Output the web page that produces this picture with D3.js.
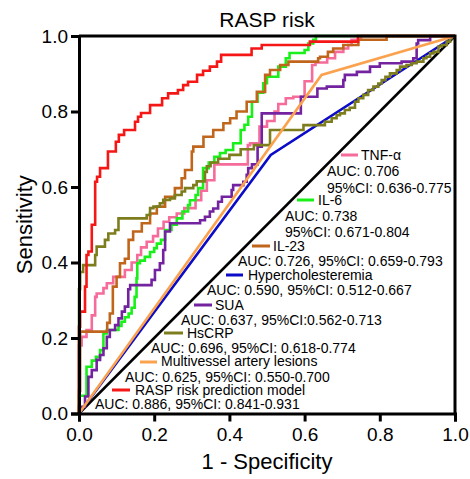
<!DOCTYPE html>
<html>
<head>
<meta charset="utf-8">
<script src="https://cdn.jsdelivr.net/npm/d3@7"></script>
<style>
  body { margin: 0; background: #fff; }
  text { font-family: "Liberation Sans", Arial, sans-serif; fill: #000; }
</style>
</head>
<body>
<svg id="chart"></svg>
<script>
// ROC curves: [1 - specificity, sensitivity]
const tnfa = [[0,0],[0.007,0.18],[0.02,0.203],[0.034,0.221],[0.043,0.26],[0.047,0.309],[0.065,0.318],[0.074,0.332],[0.091,0.345],[0.122,0.362],[0.14,0.38],[0.155,0.40],[0.165,0.42],[0.18,0.44],[0.197,0.455],[0.21,0.47],[0.225,0.49],[0.24,0.508],[0.26,0.52],[0.28,0.53],[0.31,0.544],[0.325,0.565],[0.34,0.59],[0.36,0.618],[0.449,0.66],[0.455,0.711],[0.48,0.716],[0.50,0.76],[0.52,0.775],[0.53,0.80],[0.55,0.82],[0.57,0.835],[0.60,0.839],[0.62,0.88],[0.629,0.923],[0.66,0.93],[0.681,0.941],[0.703,0.958],[0.716,0.967],[0.725,0.976],[0.75,0.99],[0.8,1],[1,1]]
const il6 = [[0,0],[0,0.03],[0.02,0.047],[0.034,0.124],[0.045,0.14],[0.056,0.15],[0.065,0.168],[0.074,0.212],[0.105,0.221],[0.113,0.232],[0.122,0.243],[0.132,0.255],[0.14,0.265],[0.148,0.28],[0.153,0.309],[0.155,0.358],[0.162,0.398],[0.175,0.405],[0.189,0.415],[0.2,0.428],[0.207,0.438],[0.218,0.45],[0.229,0.46],[0.246,0.486],[0.26,0.5],[0.275,0.517],[0.29,0.535],[0.295,0.552],[0.31,0.565],[0.317,0.579],[0.33,0.597],[0.345,0.65],[0.36,0.665],[0.375,0.68],[0.39,0.69],[0.41,0.698],[0.43,0.716],[0.44,0.751],[0.45,0.765],[0.46,0.786],[0.475,0.826],[0.49,0.85],[0.5,0.875],[0.53,0.892],[0.55,0.919],[0.56,0.941],[0.6,0.955],[0.61,0.963],[0.623,0.98],[0.63,0.99],[0.72,1],[1,1]]
const il23 = [[0,0],[0.003,0.06],[0.075,0.217],[0.082,0.24],[0.09,0.265],[0.1,0.336],[0.109,0.362],[0.122,0.398],[0.132,0.41],[0.144,0.46],[0.167,0.482],[0.189,0.504],[0.207,0.53],[0.229,0.548],[0.255,0.574],[0.273,0.597],[0.282,0.623],[0.3,0.645],[0.304,0.694],[0.331,0.707],[0.357,0.733],[0.384,0.751],[0.402,0.769],[0.419,0.782],[0.446,0.8],[0.473,0.826],[0.495,0.852],[0.508,0.897],[0.535,0.91],[0.557,0.923],[0.636,0.932],[0.641,0.941],[0.662,0.945],[0.676,0.958],[0.703,0.967],[0.743,0.976],[0.818,0.99],[0.87,1],[1,1]]
const hyperchol = [[0,0],[0.51,0.685],[1,1]]
const sua = [[0,0],[0.016,0.018],[0.025,0.045],[0.034,0.097],[0.047,0.115],[0.056,0.142],[0.065,0.155],[0.074,0.173],[0.082,0.203],[0.096,0.221],[0.105,0.234],[0.114,0.252],[0.122,0.27],[0.131,0.283],[0.136,0.329],[0.193,0.34],[0.202,0.354],[0.215,0.38],[0.224,0.398],[0.229,0.433],[0.242,0.482],[0.322,0.504],[0.335,0.512],[0.348,0.521],[0.357,0.535],[0.37,0.543],[0.38,0.561],[0.406,0.574],[0.41,0.592],[0.437,0.605],[0.446,0.614],[0.45,0.632],[0.46,0.65],[0.475,0.66],[0.486,0.707],[0.59,0.795],[0.634,0.839],[0.659,0.861],[0.703,0.866],[0.707,0.883],[0.739,0.897],[0.774,0.905],[0.80,0.919],[0.858,0.928],[0.889,0.932],[0.898,0.941],[0.902,0.98],[0.934,0.989],[1,1]]
const hscrp = [[0,0],[0,0.23],[0.003,0.33],[0.011,0.375],[0.043,0.393],[0.047,0.42],[0.069,0.442],[0.078,0.46],[0.096,0.477],[0.105,0.486],[0.18,0.517],[0.189,0.526],[0.198,0.544],[0.215,0.548],[0.224,0.557],[0.242,0.566],[0.255,0.57],[0.273,0.579],[0.282,0.588],[0.304,0.597],[0.313,0.605],[0.335,0.615],[0.34,0.64],[0.35,0.655],[0.37,0.665],[0.40,0.675],[0.43,0.685],[0.465,0.70],[0.508,0.711],[0.597,0.751],[0.654,0.764],[0.672,0.773],[0.685,0.782],[0.694,0.79],[0.707,0.795],[0.72,0.804],[0.734,0.81],[0.743,0.826],[0.756,0.835],[0.769,0.844],[0.783,0.857],[0.796,0.866],[0.805,0.874],[0.815,0.883],[0.827,0.892],[0.845,0.901],[0.854,0.91],[0.871,0.919],[0.885,0.923],[0.898,0.928],[0.916,0.932],[0.924,0.941],[0.934,0.945],[0.943,0.954],[0.956,0.958],[0.965,0.972],[0.978,0.976],[0.987,0.985],[0.991,0.994],[1,1]]
const multivessel = [[0,0],[0.645,0.897],[1,1]]
const rasp = [[0,0],[0.003,0.23],[0.016,0.27],[0.02,0.336],[0.025,0.42],[0.034,0.429],[0.043,0.5],[0.048,0.614],[0.056,0.627],[0.077,0.65],[0.098,0.694],[0.106,0.72],[0.12,0.738],[0.149,0.751],[0.157,0.773],[0.165,0.786],[0.189,0.796],[0.221,0.817],[0.237,0.835],[0.263,0.848],[0.277,0.857],[0.29,0.870],[0.314,0.879],[0.33,0.897],[0.348,0.908],[0.367,0.919],[0.378,0.932],[0.459,0.95],[0.486,0.967],[0.614,0.976],[0.742,0.985],[0.818,1],[1,1]]
const reference = [[0,0],[1,1]]

const seriesNames = ['TNF-α', 'IL-6', 'IL-23', 'Hypercholesteremia', 'SUA', 'HsCRP', 'Multivessel artery lesions', 'RASP risk prediction model']
const seriesValues = [tnfa, il6, il23, hyperchol, sua, hscrp, multivessel, rasp]
const seriesStepped = [true, true, true, false, true, true, false, true]
const seriesColors = ['#f56b9a', '#19f019', '#c0661c', '#0b0bc8', '#7323a0', '#7d7d1e', '#fba24f', '#f51616']
const aucLines = [
  ['AUC: 0.706', '95%CI: 0.636-0.775'],
  ['AUC: 0.738', '95%CI: 0.671-0.804'],
  ['AUC: 0.726, 95%CI: 0.659-0.793'],
  ['AUC: 0.590, 95%CI: 0.512-0.667'],
  ['AUC: 0.637, 95%CI:0.562-0.713'],
  ['AUC: 0.696, 95%CI: 0.618-0.774'],
  ['AUC: 0.625, 95%CI: 0.550-0.700'],
  ['AUC: 0.886, 95%CI: 0.841-0.931']
]
const tickValues = [0, 0.2, 0.4, 0.6, 0.8, 1.0]

const width = 470
const height = 479
const margin = { top: 36, right: 15, bottom: 65.5, left: 79 }

const svg = d3.select('#chart').attr('width', width).attr('height', height)

const x = d3.scaleLinear().domain([0, 1]).range([margin.left, width - margin.right])
const y = d3.scaleLinear().domain([0, 1]).range([height - margin.bottom, margin.top])

// title
svg.append('text')
  .attr('x', (x(0) + x(1)) / 2)
  .attr('y', 27)
  .attr('text-anchor', 'middle')
  .attr('font-size', 21)
  .text('RASP risk')

// chance diagonal
svg.append('path')
  .attr('d', d3.line().x(d => x(d[0])).y(d => y(d[1]))(reference))
  .attr('fill', 'none')
  .attr('stroke', '#000')
  .attr('stroke-width', 2.5)

// ROC curves, drawn in legend order so the model ends on top
seriesValues.forEach((vals, i) => {
  const line = d3.line()
    .x(d => x(d[0]))
    .y(d => y(d[1]))
    .curve(seriesStepped[i] ? d3.curveStepBefore : d3.curveLinear)
  svg.append('path')
    .attr('d', line(vals))
    .attr('fill', 'none')
    .attr('stroke', seriesColors[i])
    .attr('stroke-width', 2.6)
})

// frame: top and right edges
svg.append('path')
  .attr('d', `M${x(0)},${y(1)}H${x(1)}V${y(0)}`)
  .attr('fill', 'none')
  .attr('stroke', '#000')
  .attr('stroke-width', 3)

// axes
const fmt = d3.format('.1f')
const xAxis = svg.append('g')
  .attr('transform', `translate(0,${y(0)})`)
  .call(d3.axisBottom(x).tickValues(tickValues).tickFormat(fmt).tickSize(8).tickPadding(6))
const yAxis = svg.append('g')
  .attr('transform', `translate(${x(0)},0)`)
  .call(d3.axisLeft(y).tickValues(tickValues).tickFormat(fmt).tickSize(8).tickPadding(3))

;[xAxis, yAxis].forEach(g => {
  g.select('.domain').attr('stroke', '#000').attr('stroke-width', 3)
  g.selectAll('.tick line').attr('stroke', '#000').attr('stroke-width', 3)
  g.selectAll('.tick text')
    .attr('font-size', 19)
    .attr('font-family', '"Liberation Sans", Arial, sans-serif')
    .attr('fill', '#000')
})

// axis titles
svg.append('text')
  .attr('x', (x(0) + x(1)) / 2)
  .attr('y', 469)
  .attr('text-anchor', 'middle')
  .attr('font-size', 22)
  .text('1 - Specificity')

svg.append('text')
  .attr('transform', `translate(32,${(y(0) + y(1)) / 2}) rotate(-90)`)
  .attr('text-anchor', 'middle')
  .attr('font-size', 22)
  .text('Sensitivity')

// legend, stacked along the diagonal
const legendLayout = [
  { dash: [341, 358, 155], label: [361, 160], auc: [327, [176, 193]] },
  { dash: [297, 314, 200], label: [318, 205], auc: [285, [221, 237]] },
  { dash: [252, 270, 246], label: [273, 251], auc: [238, [266]] },
  { dash: [226, 243, 275], label: [248, 280], auc: [207, [295]] },
  { dash: [194, 212, 305], label: [215, 310], auc: [181, [325]] },
  { dash: [164, 183, 333], label: [187, 338], auc: [151, [353]] },
  { dash: [140, 157, 362], label: [161, 366], auc: [125, [382]] },
  { dash: [112, 130, 390], label: [135, 395], auc: [95, [409]] }
]

const legend = svg.append('g').attr('font-size', 14)
legendLayout.forEach((p, i) => {
  legend.append('line')
    .attr('x1', p.dash[0]).attr('x2', p.dash[1])
    .attr('y1', p.dash[2]).attr('y2', p.dash[2])
    .attr('stroke', seriesColors[i])
    .attr('stroke-width', 3)
  legend.append('text')
    .attr('x', p.label[0]).attr('y', p.label[1])
    .text(seriesNames[i])
  aucLines[i].forEach((t, j) => {
    legend.append('text')
      .attr('x', p.auc[0]).attr('y', p.auc[1][j])
      .text(t)
  })
})
</script>
</body>
</html>
